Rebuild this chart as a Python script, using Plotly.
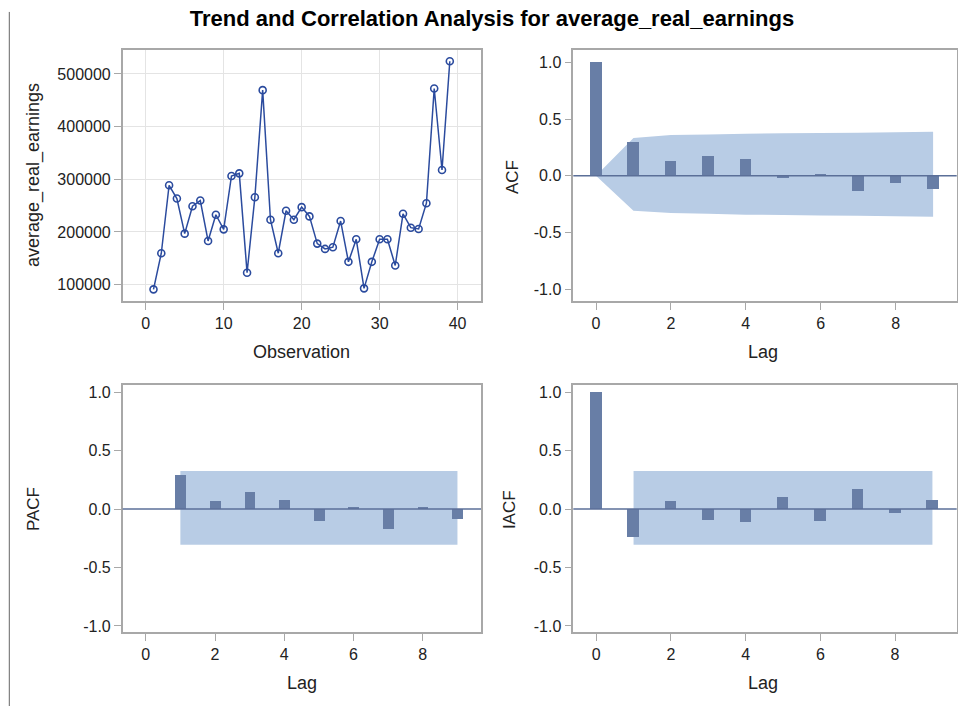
import plotly.graph_objects as go

# ---- series data -------------------------------------------------------
observation = list(range(1, 40))
average_real_earnings = [
    91200, 159700, 288700, 263500, 196900, 249000, 259700, 183000, 232700, 205000,
    306300, 311300, 122600, 266000, 469200, 223300, 159700, 240300, 223300, 247200,
    229600, 178000, 167900, 171100, 220800, 143400, 186200, 93100, 143400, 186200,
    186200, 136500, 234600, 208200, 205700, 254700, 472300, 317600, 523900,
]

acf_lags = [0, 1, 2, 3, 4, 5, 6, 7, 8, 9]
acf_values = [1.0, 0.294, 0.131, 0.172, 0.148, -0.015, 0.017, -0.134, -0.064, -0.116]
acf_band_upper = [0.0, 0.334, 0.36, 0.365, 0.372, 0.375, 0.378, 0.38, 0.385, 0.39]
acf_band_lower = [0.0, -0.308, -0.328, -0.335, -0.343, -0.346, -0.349, -0.352, -0.356, -0.36]

pacf_lags = [1, 2, 3, 4, 5, 6, 7, 8, 9]
pacf_values = [0.292, 0.062, 0.139, 0.074, -0.102, 0.01, -0.17, 0.01, -0.091]
pacf_band = (-0.305, 0.325)

iacf_lags = [0, 1, 2, 3, 4, 5, 6, 7, 8, 9]
iacf_values = [1.0, -0.244, 0.062, -0.099, -0.116, 0.102, -0.102, 0.167, -0.034, 0.074]
iacf_band_lags = (1, 9)
iacf_band = (-0.305, 0.325)

earn_ticks = [100000, 200000, 300000, 400000, 500000]
earn_labels = ["100000", "200000", "300000", "400000", "500000"]
obs_ticks = [0, 10, 20, 30, 40]
corr_ticks = [-1.0, -0.5, 0.0, 0.5, 1.0]
corr_labels = ["-1.0", "-0.5", "0.0", "0.5", "1.0"]
lag_ticks = [0, 2, 4, 6, 8]

# ---- styling -------------------------------------------------------------
W, H = 958, 708
FONT = "Liberation Sans, Arial, sans-serif"
LINE_BLUE = "#2b4b9e"
BAR = "#687ea6"
BAND = "#b8cce5"
ZERO = "#5b6f98"
FRAME = "#a8a8a8"
TEXT = "#222222"


def px_x(v):
    return v / W


def px_y(v):
    return 1 - v / H


left_dom = [px_x(122.7), px_x(481)]
right_dom = [px_x(573.3), px_x(956.7)]
top_dom = [px_y(301), px_y(48.3)]
bot_dom = [px_y(634), px_y(385.5)]

fig = go.Figure()

# time series
fig.add_trace(go.Scatter(
    x=observation, y=average_real_earnings, mode="lines+markers",
    line=dict(color=LINE_BLUE, width=1.5),
    marker=dict(symbol="circle-open", size=7, color=LINE_BLUE, line=dict(width=1.6)),
    xaxis="x", yaxis="y", showlegend=False,
))

# correlation bars
fig.add_trace(go.Bar(x=acf_lags, y=acf_values, width=0.31, marker=dict(color=BAR, line=dict(width=0)),
                     xaxis="x2", yaxis="y2", showlegend=False))
fig.add_trace(go.Bar(x=pacf_lags, y=pacf_values, width=0.31, marker=dict(color=BAR, line=dict(width=0)),
                     xaxis="x3", yaxis="y3", showlegend=False))
fig.add_trace(go.Bar(x=iacf_lags, y=iacf_values, width=0.31, marker=dict(color=BAR, line=dict(width=0)),
                     xaxis="x4", yaxis="y4", showlegend=False))

# confidence bands (drawn beneath the bars)
pts = [f"{x},{y}" for x, y in zip(acf_lags, acf_band_upper)]
pts += [f"{x},{y}" for x, y in zip(reversed(acf_lags), reversed(acf_band_lower))]
acf_path = "M " + " L ".join(pts) + " Z"

shapes = [
    dict(type="path", path=acf_path, xref="x2", yref="y2", fillcolor=BAND,
         line=dict(width=0), layer="below"),
    dict(type="rect", x0=pacf_lags[0], x1=pacf_lags[-1], y0=pacf_band[0], y1=pacf_band[1],
         xref="x3", yref="y3", fillcolor=BAND, line=dict(width=0), layer="below"),
    dict(type="rect", x0=iacf_band_lags[0], x1=iacf_band_lags[1], y0=iacf_band[0], y1=iacf_band[1],
         xref="x4", yref="y4", fillcolor=BAND, line=dict(width=0), layer="below"),
]
for ax in ("2", "3", "4"):
    shapes.append(dict(type="line", xref=f"x{ax} domain", yref=f"y{ax}", x0=0, x1=1, y0=0, y1=0,
                       line=dict(color=ZERO, width=1.5), layer="above"))
# page rule on the left
shapes.append(dict(type="line", xref="paper", yref="paper", x0=px_x(9.3), x1=px_x(9.3),
                   y0=0, y1=px_y(10), line=dict(color="#666666", width=1)))

axis_common = dict(
    showline=True, mirror=True, linecolor=FRAME, linewidth=1.5,
    ticks="outside", ticklen=7, tickwidth=1, tickcolor=FRAME,
    tickfont=dict(family=FONT, size=16, color=TEXT),
    zeroline=False, showgrid=False, fixedrange=True,
)

layout = dict(
    width=W, height=H, margin=dict(l=0, r=0, t=0, b=0),
    paper_bgcolor="white", plot_bgcolor="white",
    font=dict(family=FONT, color=TEXT),
    bargap=0, shapes=shapes,
    title=dict(text="<b>Trend and Correlation Analysis for average_real_earnings</b>",
               x=px_x(492), y=px_y(18), xanchor="center", yanchor="middle",
               font=dict(family=FONT, size=22, color="#000000")),
    xaxis=dict(axis_common, domain=left_dom, anchor="y", range=[-2.95, 43],
               tickvals=obs_ticks, showgrid=True, gridcolor="#e4e4e4", gridwidth=1),
    yaxis=dict(axis_common, domain=top_dom, anchor="x", range=[68500, 545300],
               tickvals=earn_ticks, ticktext=earn_labels, showgrid=True, gridcolor="#e4e4e4", gridwidth=1),
    xaxis2=dict(axis_common, domain=right_dom, anchor="y2", range=[-0.606, 9.63], tickvals=lag_ticks),
    yaxis2=dict(axis_common, domain=top_dom, anchor="x2", range=[-1.107, 1.11],
                tickvals=corr_ticks, ticktext=corr_labels),
    xaxis3=dict(axis_common, domain=left_dom, anchor="y3", range=[-0.665, 9.68], tickvals=lag_ticks),
    yaxis3=dict(axis_common, domain=bot_dom, anchor="x3", range=[-1.055, 1.058],
                tickvals=corr_ticks, ticktext=corr_labels),
    xaxis4=dict(axis_common, domain=right_dom, anchor="y4", range=[-0.613, 9.65], tickvals=lag_ticks),
    yaxis4=dict(axis_common, domain=bot_dom, anchor="x4", range=[-1.055, 1.058],
                tickvals=corr_ticks, ticktext=corr_labels),
)
fig.update_layout(layout)

# axis titles
labels = [
    ("average_real_earnings", 33, 174, -90, 18),
    ("Observation", 301, 352, 0, 18),
    ("ACF", 512, 176, -90, 17),
    ("Lag", 763, 352, 0, 18),
    ("PACF", 33, 510, -90, 17),
    ("Lag", 302, 685, 0, 18),
    ("IACF", 509, 511, -90, 17),
    ("Lag", 763, 685, 0, 18),
]
for text, x, y, ang, size in labels:
    fig.add_annotation(text=text, x=px_x(x), y=px_y(y), xref="paper", yref="paper",
                       xanchor="center", yanchor="middle", textangle=ang, showarrow=False,
                       font=dict(family=FONT, size=size, color=TEXT))

fig.write_html("out.html")
